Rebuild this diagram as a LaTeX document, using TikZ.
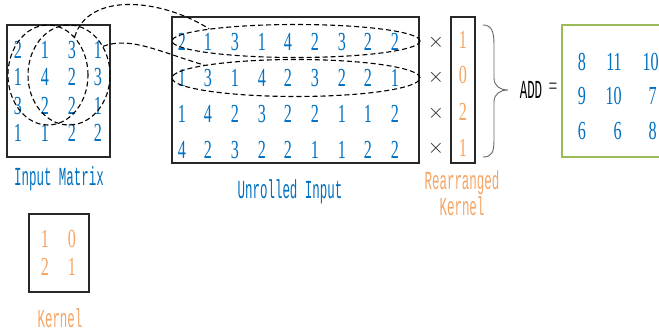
\documentclass[tikz,border=0pt]{standalone}
\usepackage{fontspec}
\setmainfont{Liberation Serif}[FakeStretch=0.62]
\newfontfamily\labfont{Liberation Mono}[FakeStretch=0.48]
\usetikzlibrary{shapes.geometric}
\definecolor{numblue}{RGB}{0,112,192}
\definecolor{korange}{RGB}{244,165,100}
\definecolor{resgreen}{RGB}{155,187,89}
\definecolor{boxgray}{RGB}{40,40,40}
\tikzset{
  num/.style={text=numblue,font=\fontsize{26}{26}\selectfont,inner sep=0pt},
  knum/.style={text=korange,font=\fontsize{26}{26}\selectfont,inner sep=0pt},
  lab/.style={font=\labfont\fontsize{26}{26}\selectfont,inner sep=0pt},
  frame/.style={draw=boxgray,line width=1.4pt},
  dashell/.style={ellipse,draw,dash pattern=on 5pt off 3pt,line width=1.1pt,inner sep=0pt},
  link/.style={draw,dash pattern=on 5pt off 3pt,line width=1.1pt},
  times/.style={text=boxgray,font=\fontsize{20}{20}\selectfont,inner sep=0pt},
}
\begin{document}
\begin{tikzpicture}[x=1pt,y=-1pt]
\useasboundingbox (0,0) rectangle (659,331);
% input matrix
\draw[frame] (7,25) rectangle (110,157);
\foreach \r/\y [count=\i] in {{2,1,3,1}/50,{1,4,2,3}/77,{3,2,2,1}/106,{1,1,2,2}/133}{
  \foreach \v/\x [count=\j] in {0/18,1/45,2/72,3/98}{
    \pgfmathtruncatemacro{\val}{{\r}[\v]}
    \node[num] (in\i\j) at (\x,\y) {\val};
  }
}
\node[dashell,minimum width=80pt,minimum height=100pt] (inA) at (48,75) {};
\node[dashell,minimum width=82pt,minimum height=100pt] (inB) at (69,75) {};
\node[lab,text=numblue] (inlab) at (59,179) {Input Matrix};
% kernel
\draw[frame] (29,214) rectangle (89,292);
\node[knum] (k11) at (45,239) {1};
\node[knum] (k12) at (72,239) {0};
\node[knum] (k21) at (45,267) {2};
\node[knum] (k22) at (72,267) {1};
\node[lab,text=korange] (klab) at (60,318) {Kernel};
% unrolled
\draw[frame] (172,17) rectangle (419,163);
\foreach \r/\y [count=\i] in {{2,1,3,1,4,2,3,2,2}/42,{1,3,1,4,2,3,2,2,1}/78,{1,4,2,3,2,2,1,1,2}/114,{4,2,3,2,2,1,1,2,2}/150}{
  \foreach \v/\x [count=\j] in {0/182,1/208,2/235,3/262,4/288,5/315,6/342,7/368,8/395}{
    \pgfmathtruncatemacro{\val}{{\r}[\v]}
    \node[num] (u\i\j) at (\x,\y) {\val};
  }
}
\node[dashell,minimum width=248pt,minimum height=33pt] (rowA) at (296,41) {};
\node[dashell,minimum width=248pt,minimum height=37pt] (rowB) at (296,78) {};
\node[lab,text=numblue] (ulab) at (290,192) {Unrolled Input};
% links
\draw[link] (inA.55) .. controls (88,-8) and (160,-2) .. (rowA.172);
\draw[link] (inB.40) .. controls (130,36) and (160,52) .. (rowB.172);
% times
\foreach \y [count=\i] in {42,77,113,148}{
  \node[times] (x\i) at (436,\y) {$\times$};
}
% rearranged kernel
\draw[frame] (451,17) rectangle (475,163);
\node[knum] (rk1) at (463,40) {1};
\node[knum] (rk2) at (463,75) {0};
\node[knum] (rk3) at (463,112) {2};
\node[knum] (rk4) at (463,148) {1};
\node[lab,text=korange] (rklab1) at (462,183) {Rearranged};
\node[lab,text=korange] (rklab2) at (462,206) {Kernel};
% brace
\draw[gray!80!black,line width=0.9pt] (483,25) .. controls (492,25) and (494,32) .. (494,45)
  -- (494,78) .. controls (494,86) and (500,90) .. (508,90)
  .. controls (500,90) and (494,94) .. (494,102) -- (494,140)
  .. controls (494,152) and (492,157) .. (483,157);
\node[lab,text=black] (add) at (531,90) {ADD};
\node[text=boxgray,font=\fontsize{25}{25}\selectfont,inner sep=0pt] (eq) at (553,89) {=};
% result
\draw[resgreen,line width=1.4pt] (562,25) rectangle (662,157);
\node[num] (r11) at (582,62) {8};
\node[num,anchor=east] (r12) at (622,62) {11};
\node[num,anchor=east] (r13) at (659,62) {10};
\node[num] (r21) at (582,96) {9};
\node[num,anchor=east] (r22) at (622,96) {10};
\node[num,anchor=east] (r23) at (657,96) {7};
\node[num] (r31) at (582,131) {6};
\node[num,anchor=east] (r32) at (622,131) {6};
\node[num,anchor=east] (r33) at (657,131) {8};
\end{tikzpicture}
\end{document}
